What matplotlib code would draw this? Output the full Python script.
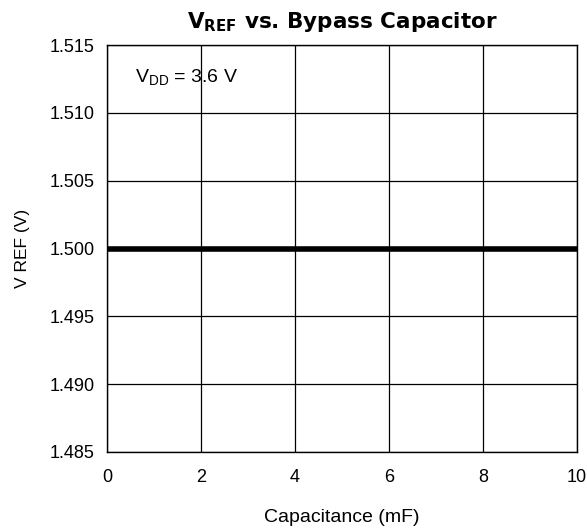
import matplotlib
matplotlib.use('Agg')
import matplotlib.pyplot as plt

capacitance = [0, 10]
vref = [1.500, 1.500]
x_ticks = [0, 2, 4, 6, 8, 10]
y_ticks = [1.485, 1.490, 1.495, 1.500, 1.505, 1.510, 1.515]

plt.rcParams['font.family'] = ['Liberation Sans', 'DejaVu Sans']
plt.rcParams['mathtext.fontset'] = 'custom'
plt.rcParams['mathtext.rm'] = 'Liberation Sans'
plt.rcParams['mathtext.bf'] = 'DejaVu Sans:bold'

fig = plt.figure(figsize=(5.87, 5.31), dpi=100)
ax = fig.add_axes([0.182, 0.149, 0.801, 0.766])

ax.plot(capacitance, vref, color='black', linewidth=4, solid_capstyle='butt')

ax.set_xlim(0, 10)
ax.set_ylim(1.485, 1.515)
ax.set_xticks(x_ticks)
ax.set_yticks(y_ticks)
ax.set_yticklabels([f'{v:.3f}' for v in y_ticks])
ax.tick_params(length=0, labelsize=13, pad=9)
ax.tick_params(axis='x', pad=12)
ax.grid(True, color='black', linewidth=0.9)
for s in ax.spines.values():
    s.set_linewidth(1.0)

ax.text(0.6, 1.5126, r'V$_\mathrm{DD}$ = 3.6 V', fontsize=14, va='center')

ax.set_title(r'V$_\mathbf{REF}$ vs. Bypass Capacitor', fontsize=15.5,
             fontweight='bold', family='DejaVu Sans', pad=12)
ax.set_ylabel('V REF (V)', fontsize=12.5, labelpad=14)
ax.set_xlabel('Capacitance (mF)', fontsize=14, labelpad=17)

fig.savefig('out.png', dpi=100)
